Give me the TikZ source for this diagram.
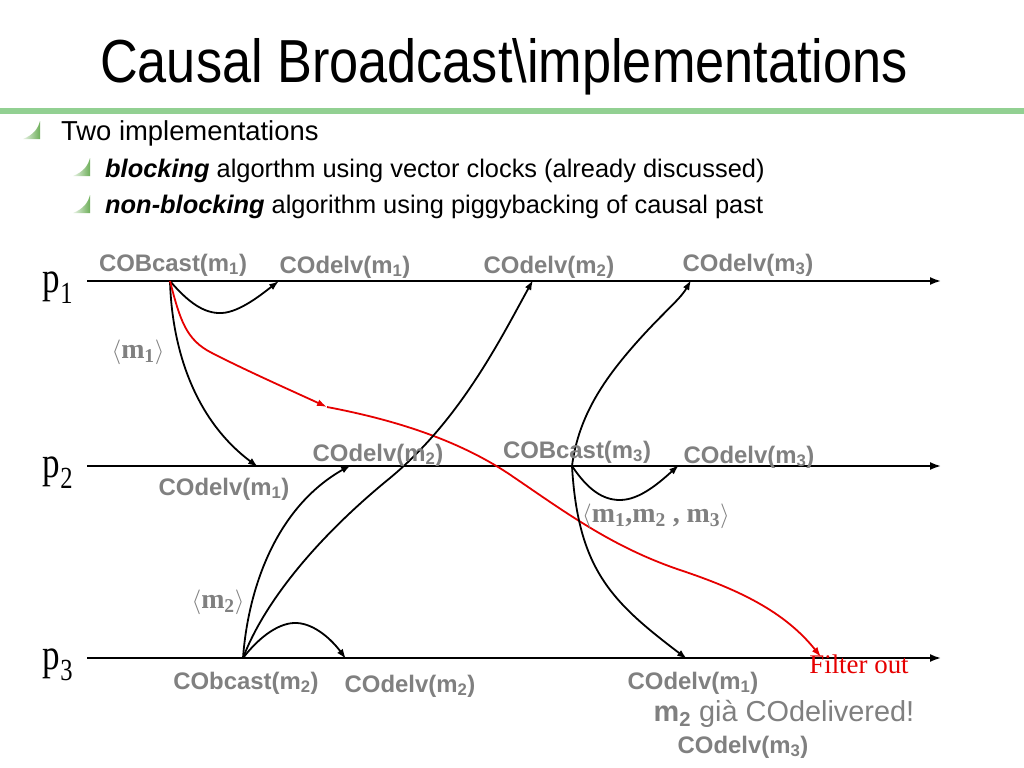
\documentclass[tikz,border=0pt]{standalone}
\usepackage{fontspec}
\setmainfont{Liberation Serif}
\newfontfamily\titlefont[FakeStretch=0.86]{Liberation Sans}
\newfontfamily\bodyfont{Liberation Sans}
\newfontfamily\pfont[FakeStretch=0.8]{Liberation Serif}
\usetikzlibrary{arrows.meta}
\definecolor{lblgray}{RGB}{128,128,128}
\definecolor{rulegreen}{RGB}{146,208,146}
\definecolor{bulletgreen}{RGB}{110,175,90}
\definecolor{msgred}{RGB}{230,0,0}
\tikzset{
  lbl/.style={anchor=base, inner sep=0pt, text=lblgray, font=\bodyfont\bfseries\fontsize{24}{26}\selectfont},
  setlbl/.style={anchor=base, inner sep=0pt, text=lblgray, font=\bfseries\fontsize{28}{30}\selectfont},
  proc/.style={anchor=base, inner sep=0pt, font=\pfont\fontsize{44}{46}\selectfont},
  timeline/.style={line width=1.8bp, -{Latex[length=11bp,width=8bp]}},
  msg/.style={line width=1.8bp, -{Latex[length=10bp,width=7bp]}},
  redmsg/.style={msg, draw=msgred},
  bodytext/.style={anchor=base west, inner sep=0pt, font=\bodyfont\fontsize{25.5}{28}\selectfont},
}
\newcommand\bul[2]{%
  \shade[left color=bulletgreen!15, right color=bulletgreen]
    (#1+17,#2) -- (#1+17,#2+18) -- (#1,#2+18)
    .. controls (#1+10,#2+14) and (#1+15,#2+8) .. cycle;}
\newcommand\sng{$\langle$}
\newcommand\sngr{$\rangle$}
\begin{document}
\begin{tikzpicture}[x=1bp,y=-1bp]
\useasboundingbox (0,0) rectangle (1024,768);
\fill[white] (0,0) rectangle (1024,768);

% title and bullets
\node[anchor=base west, inner sep=0pt, font=\titlefont\fontsize{61}{63}\selectfont] (title) at (100,83) {Causal Broadcast\textbackslash implementations};
\fill[rulegreen] (0,108) rectangle (1024,113.5);
\bul{23}{121}
\node[bodytext, font=\bodyfont\fontsize{27.5}{30}\selectfont] (b1) at (61,140) {Two implementations};
\bul{73}{158}
\node[bodytext] (b2) at (105,177) {\textbf{\textit{blocking}} algorthm using vector clocks (already discussed)};
\bul{73}{195}
\node[bodytext] (b3) at (105,213) {\textbf{\textit{non-blocking}} algorithm using piggybacking of causal past};

% processes
\node[proc] (p1) at (58,292) {p\textsubscript{1}};
\node[proc] (p2) at (58,477) {p\textsubscript{2}};
\node[proc] (p3) at (58,669) {p\textsubscript{3}};
\coordinate (p1a) at (87,281); \coordinate (p1b) at (941,281);
\coordinate (p2a) at (87,466); \coordinate (p2b) at (941,466);
\coordinate (p3a) at (87,658); \coordinate (p3b) at (941,658);
\draw[timeline] (p1a) -- (p1b);
\draw[timeline] (p2a) -- (p2b);
\draw[timeline] (p3a) -- (p3b);

% events
\coordinate (s1) at (170,281);
\coordinate (d11) at (279,281);
\coordinate (d12) at (258,467);
\coordinate (r) at (327,407);
\coordinate (f) at (821,657);
\coordinate (s2) at (243,658);
\coordinate (d23) at (346,659);
\coordinate (d22) at (351,465);
\coordinate (d21) at (533,280);
\coordinate (s3) at (572,466);
\coordinate (d32) at (679,465);
\coordinate (d31) at (691,280);
\coordinate (d33) at (687,659);

% m1
\draw[msg] (s1) .. controls (188,302) and (204,314) .. (222,313) .. controls (240,312) and (262,294) .. (d11);
\draw[msg] (s1) .. controls (172,350) and (195,420) .. (d12);
\draw[redmsg] (s1) .. controls (180,320) and (186,340) .. (212,353) .. controls (245,370) and (290,390) .. (r);
\draw[redmsg] (r) .. controls (385,418) and (455,437) .. (512,476) .. controls (565,512) and (612,547) .. (680,570) .. controls (740,590) and (785,612) .. (f);

% m2
\draw[msg] (s2) .. controls (260,636) and (280,622) .. (297,623) .. controls (315,624) and (332,640) .. (d23);
\draw[msg] (s2) .. controls (248,590) and (275,508) .. (d22);
\draw[msg] (s2) .. controls (265,600) and (320,535) .. (390,478) .. controls (460,420) and (500,340) .. (d21);

% m3
\draw[msg] (s3) .. controls (588,490) and (603,500) .. (620,500) .. controls (640,500) and (660,482) .. (d32);
\draw[msg] (s3) .. controls (578,420) and (600,385) .. (630,350) .. controls (660,315) and (680,300) .. (d31);
\draw[msg] (s3) .. controls (578,570) and (612,602) .. (d33);

% labels p1
\node[lbl] (lcb1) at (173,271) {COBcast(m\textsubscript{1})};
\node[lbl] (ld11) at (345,273) {COdelv(m\textsubscript{1})};
\node[lbl] (ld21) at (549,273) {COdelv(m\textsubscript{2})};
\node[lbl] (ld31) at (748,271) {COdelv(m\textsubscript{3})};
\node[setlbl] (lm1) at (138,358) {\sng m\textsubscript{1}\sngr};
% labels p2
\node[lbl] (ld22) at (378,461) {COdelv(m\textsubscript{2})};
\node[lbl] (ld12) at (224,495) {COdelv(m\textsubscript{1})};
\node[lbl] (lcb3) at (577,458) {COBcast(m\textsubscript{3})};
\node[lbl] (ld32) at (749,463) {COdelv(m\textsubscript{3})};
\node[setlbl] (lm123) at (656,522) {\sng m\textsubscript{1},m\textsubscript{2} , m\textsubscript{3}\sngr};
% labels p3
\node[setlbl] (lm2) at (218,608) {\sng m\textsubscript{2}\sngr};
\node[lbl] (lcb2) at (246,689) {CObcast(m\textsubscript{2})};
\node[lbl] (ld23) at (410,692) {COdelv(m\textsubscript{2})};
\node[lbl] (ld13) at (693,689) {COdelv(m\textsubscript{1})};
\node[anchor=base, inner sep=0pt, text=lblgray, font=\bodyfont\fontsize{29}{31}\selectfont] (lgia) at (784,721) {\textbf{m\textsubscript{2}} già COdelivered!};
\node[lbl] (ld33) at (743,753) {COdelv(m\textsubscript{3})};
\node[anchor=base, inner sep=0pt, text=msgred, font=\fontsize{27}{29}\selectfont] (lfilter) at (859,673) {Filter out};
\end{tikzpicture}
\end{document}
